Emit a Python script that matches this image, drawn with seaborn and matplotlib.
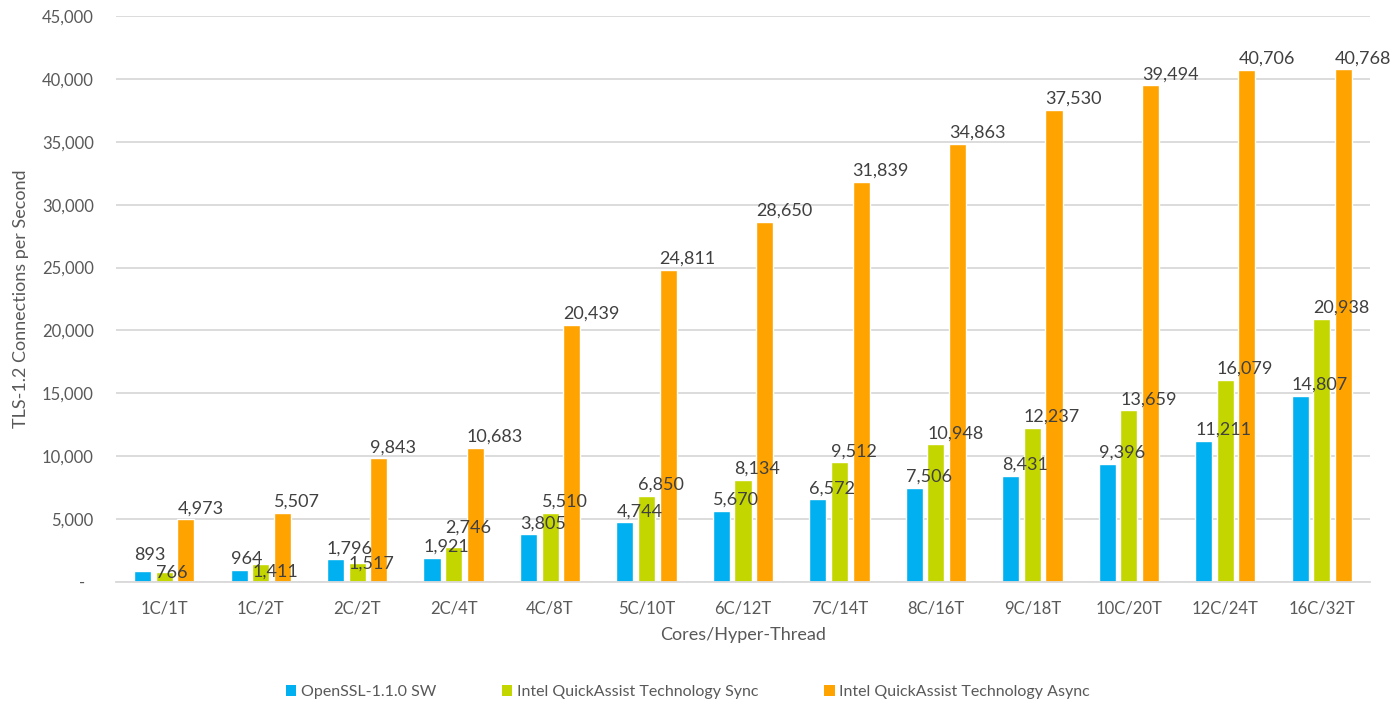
import matplotlib
matplotlib.use("Agg")
import matplotlib.pyplot as plt
import seaborn as sns
import pandas as pd
from matplotlib.ticker import FuncFormatter, MultipleLocator
from matplotlib.patches import Patch

# Core / hyper-thread configurations on the x axis
configs = ["1C/1T", "1C/2T", "2C/2T", "2C/4T", "4C/8T", "5C/10T", "6C/12T",
           "7C/14T", "8C/16T", "9C/18T", "10C/20T", "12C/24T", "16C/32T"]

series_names = ["OpenSSL-1.1.0 SW",
                "Intel QuickAssist Technology Sync",
                "Intel QuickAssist Technology Async"]

# TLS-1.2 connections per second
openssl_sw = [893, 964, 1796, 1921, 3805, 4744, 5670, 6572, 7506, 8431, 9396, 11211, 14807]
qat_sync = [766, 1411, 1517, 2746, 5510, 6850, 8134, 9512, 10948, 12237, 13659, 16079, 20938]
qat_async = [4973, 5507, 9843, 10683, 20439, 24811, 28650, 31839, 34863, 37530, 39494, 40706, 40768]

colors = ["#00B0F0", "#C4D600", "#FFA300"]
text_gray = "#595959"
label_gray = "#404040"
grid_gray = "#D9D9D9"

df = pd.DataFrame({
    "config": configs * 3,
    "series": [s for s in series_names for _ in configs],
    "cps": openssl_sw + qat_sync + qat_async,
})

sns.set_style("white")
plt.rcParams["font.family"] = ["Lato", "DejaVu Sans"]

W, H = 1398, 704
fig = plt.figure(figsize=(W / 100, H / 100), dpi=100)
ax = fig.add_axes([116 / W, 1 - 582 / H, 1254 / W, 566 / H])

sns.barplot(data=df, x="config", y="cps", hue="series", order=configs,
            hue_order=series_names, palette=colors, saturation=1,
            width=0.672, gap=0.21, errorbar=None, legend=False, ax=ax)

# Value labels sit just above each bar, left-aligned with it;
# a few crowded ones are shifted (pixels, + is up) to avoid overlaps.
label_nudge = {(0, 0): 5, (1, 0): -12, (1, 1): -18, (1, 2): -12, (1, 3): 9}
values = [openssl_sw, qat_sync, qat_async]
for si, container in enumerate(ax.containers):
    for ci, bar in enumerate(container):
        v = values[si][ci]
        dy = 6 + label_nudge.get((si, ci), 0)
        ax.annotate(f"{v:,}", xy=(bar.get_x(), v), xytext=(0, dy),
                    textcoords="offset pixels", ha="left", va="baseline",
                    fontsize=13, color=label_gray)

ax.set_xlim(-0.5, len(configs) - 0.5)
ax.set_ylim(0, 45000)
ax.yaxis.set_major_locator(MultipleLocator(5000))
ax.yaxis.set_major_formatter(FuncFormatter(
    lambda v, _: "-  " if v == 0 else f"{int(v):,}"))

ax.set_axisbelow(True)
ax.yaxis.grid(True, color=grid_gray, linewidth=1.3)
ax.xaxis.grid(False)
for side in ("left", "right", "top"):
    ax.spines[side].set_visible(False)
ax.spines["bottom"].set_color(grid_gray)
ax.spines["bottom"].set_linewidth(1.3)

ax.tick_params(axis="y", length=0, pad=16, labelsize=12, labelcolor=text_gray)
ax.tick_params(axis="x", length=0, pad=13, labelsize=12, labelcolor=text_gray)

ax.set_xlabel("Cores/Hyper-Thread", fontsize=13, color=text_gray)
ax.set_ylabel("TLS-1.2 Connections per Second", fontsize=13, color=text_gray)
ax.xaxis.set_label_coords(0.5, (582 - 627) / 566)
ax.yaxis.set_label_coords((29 - 116) / 1254, 0.5)

handles = [Patch(facecolor=c, edgecolor="none") for c in colors]
fig.legend(handles, series_names, loc="center",
           bbox_to_anchor=(688 / W, 1 - 692 / H), ncol=3, frameon=False,
           handlelength=0.65, handleheight=0.65, handletextpad=0.3,
           columnspacing=4.1, fontsize=11.5, labelcolor=text_gray)

fig.savefig("out.png", dpi=100)
